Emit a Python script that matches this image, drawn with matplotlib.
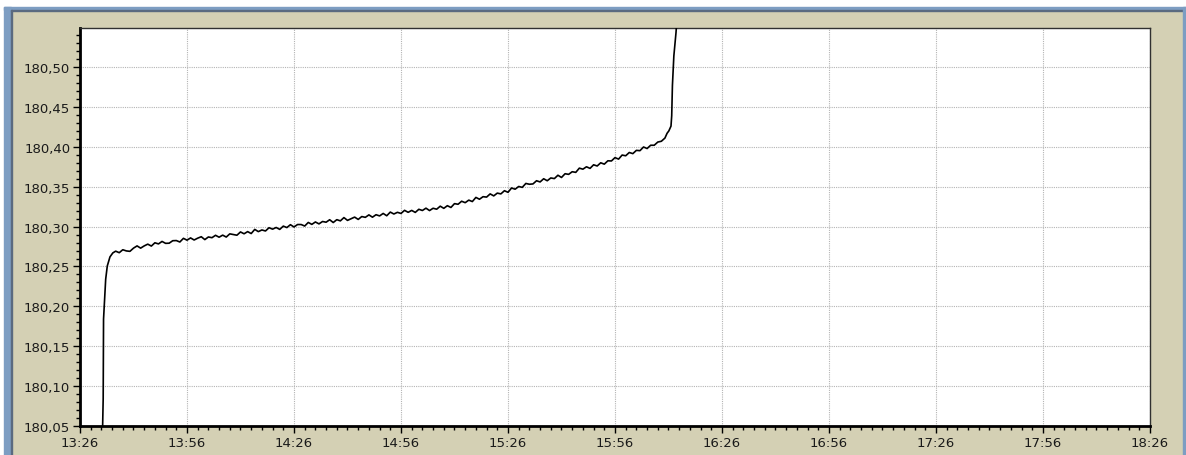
import datetime as dt
import matplotlib
matplotlib.use('Agg')
import matplotlib.pyplot as plt
import matplotlib.dates as mdates
from matplotlib.patches import Rectangle
from matplotlib.ticker import FuncFormatter, MultipleLocator

START = dt.datetime(2010, 1, 1, 13, 26)
END = dt.datetime(2010, 1, 1, 18, 26)

# minutes after 13:26 and the reading at that moment
RISE_MIN = [6.3, 6.5, 6.6, 6.9, 7.2, 7.65, 8.4, 9.2]
RISE_VAL = [180.040, 180.084, 180.184, 180.209, 180.234, 180.2506, 180.262, 180.267]

STEADY_MIN = list(range(10, 164))
STEADY_VAL = [
    180.2692, 180.2673, 180.2710, 180.2695, 180.2690, 180.2730, 180.2758, 180.2730, 180.2758, 180.2780,
    180.2756, 180.2797, 180.2783, 180.2814, 180.2790, 180.2792, 180.2823, 180.2825, 180.2807, 180.2853,
    180.2830, 180.2858, 180.2832, 180.2855, 180.2873, 180.2837, 180.2870, 180.2861, 180.2891, 180.2867,
    180.2893, 180.2869, 180.2909, 180.2900, 180.2892, 180.2933, 180.2910, 180.2937, 180.2913, 180.2965,
    180.2937, 180.2958, 180.2945, 180.2986, 180.2968, 180.2989, 180.2965, 180.3006, 180.2988, 180.3024,
    180.2995, 180.3026, 180.3026, 180.3007, 180.3052, 180.3028, 180.3058, 180.3034, 180.3064, 180.3055,
    180.3086, 180.3051, 180.3087, 180.3072, 180.3113, 180.3078, 180.3099, 180.3119, 180.3090, 180.3126,
    180.3116, 180.3147, 180.3118, 180.3149, 180.3134, 180.3165, 180.3136, 180.3182, 180.3158, 180.3179,
    180.3165, 180.3204, 180.3179, 180.3203, 180.3178, 180.3217, 180.3202, 180.3231, 180.3201, 180.3230,
    180.3218, 180.3256, 180.3229, 180.3262, 180.3240, 180.3288, 180.3280, 180.3318, 180.3300, 180.3332,
    180.3314, 180.3366, 180.3343, 180.3375, 180.3370, 180.3410, 180.3385, 180.3420, 180.3410, 180.3450,
    180.3430, 180.3484, 180.3469, 180.3503, 180.3492, 180.3541, 180.3531, 180.3535, 180.3575, 180.3560,
    180.3600, 180.3575, 180.3610, 180.3602, 180.3644, 180.3616, 180.3663, 180.3655, 180.3688, 180.3680,
    180.3733, 180.3720, 180.3750, 180.3730, 180.3775, 180.3760, 180.3800, 180.3783, 180.3825, 180.3823,
    180.3865, 180.3846, 180.3897, 180.3888, 180.3929, 180.3915, 180.3956, 180.3952, 180.3998, 180.3979,
    180.4020, 180.4020, 180.4060, 180.4070,
]

END_MIN = [164.0, 164.6, 165.1, 165.7, 165.9, 166.1, 166.5, 167.1, 167.6]
END_VAL = [180.4110, 180.4170, 180.4200, 180.4260, 180.4390, 180.4770, 180.5140, 180.5430, 180.5750]

minutes = RISE_MIN + STEADY_MIN + END_MIN
values = RISE_VAL + STEADY_VAL + END_VAL
times = [START + dt.timedelta(minutes=m) for m in minutes]

Y_LOW, Y_HIGH = 180.05, 180.549
BG = '#D4D0B4'
FRAME_BLUE = '#7D9DC2'

fig = plt.figure(figsize=(11.86, 4.56), dpi=100, facecolor=BG)

# window frame bits: white strip + blue edges
W, H = 1186, 456
def px_rect(x, y, w, h, color):
    fig.patches.append(Rectangle((x / W, 1 - (y + h) / H), w / W, h / H,
                                 transform=fig.transFigure, color=color, zorder=0))

px_rect(0, 0, W, 8, 'white')
px_rect(0, 8, 4, H, 'white')
px_rect(4, 8, W, 3, FRAME_BLUE)
px_rect(4, 8, 7, H, FRAME_BLUE)
px_rect(11, 11, W, 1, '#5a6a80')
px_rect(11, 11, 1, H, '#5a6a80')
px_rect(1183, 8, 3, H, FRAME_BLUE)

ax = fig.add_axes([80 / W, 1 - 427 / H, 1070 / W, 398 / H])
ax.set_facecolor('white')

ax.plot(times, values, color='black', lw=1.2, zorder=3)

ax.set_xlim(START, END)
ax.set_ylim(Y_LOW, Y_HIGH)

ax.xaxis.set_major_locator(mdates.MinuteLocator(byminute=[26, 56]))
ax.xaxis.set_minor_locator(mdates.MinuteLocator(byminute=range(2, 60, 3)))
ax.xaxis.set_major_formatter(mdates.DateFormatter('%H:%M'))

ax.yaxis.set_major_locator(MultipleLocator(0.05))
ax.yaxis.set_minor_locator(MultipleLocator(0.01))
ax.yaxis.set_major_formatter(FuncFormatter(lambda v, p: f'{v:.2f}'.replace('.', ',')))

ax.grid(True, which='major', color='#B4B4B4', linestyle=(0, (1, 1)), lw=0.8, zorder=1)

ax.tick_params(axis='both', which='major', length=5, width=1, color='black',
               labelsize=9.5, labelcolor='#1a1a1a', pad=2)
ax.tick_params(axis='both', which='minor', length=3, width=1, color='black')

for s in ['left', 'bottom']:
    ax.spines[s].set_linewidth(2)
    ax.spines[s].set_color('black')
ax.spines['top'].set_linewidth(1)
ax.spines['top'].set_color('#303030')
ax.spines['right'].set_linewidth(1)
ax.spines['right'].set_color('#303030')
ax.spines['right'].set_linestyle((0, (1, 1)))

plt.savefig('out.png', dpi=100, facecolor=BG)
